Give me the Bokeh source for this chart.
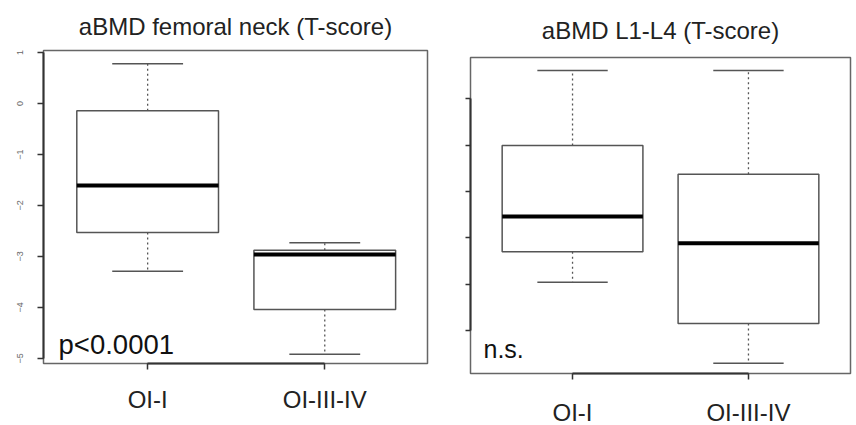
from bokeh.plotting import figure
from bokeh.layouts import row, column
from bokeh.models import FixedTicker, Range1d, Label
from bokeh.embed import file_html
from bokeh.resources import INLINE

# ---- data ----
groups = ["OI-I", "OI-III-IV"]
xpos = [1, 2]

fn_title = "aBMD femoral neck (T-score)"
fn_upper = [0.78, -2.73]
fn_q3 = [-0.14, -2.88]
fn_median = [-1.61, -2.96]
fn_q1 = [-2.53, -4.04]
fn_lower = [-3.29, -4.92]
fn_ticks = [1, 0, -1, -2, -3, -4, -5]
fn_note = "p<0.0001"

ls_title = "aBMD L1-L4 (T-score)"
ls_upper = [0.61, 0.61]
ls_q3 = [-1.01, -1.63]
ls_median = [-2.54, -3.12]
ls_q1 = [-3.30, -4.85]
ls_lower = [-3.96, -5.71]
ls_ticks = [0, -1, -2, -3, -4, -5]
ls_note = "n.s."

FONT = "Liberation Sans"
BOXW = 0.8
CAPW = 0.4


def boxplot(p, upper, q3, med, q1, lower):
    left = [x - BOXW / 2 for x in xpos]
    right = [x + BOXW / 2 for x in xpos]
    cl = [x - CAPW / 2 for x in xpos]
    cr = [x + CAPW / 2 for x in xpos]
    p.segment(x0=xpos, y0=q3, x1=xpos, y1=upper, line_color="#555",
              line_width=1.3, line_dash="2 3")
    p.segment(x0=xpos, y0=q1, x1=xpos, y1=lower, line_color="#555",
              line_width=1.3, line_dash="2 3")
    p.segment(x0=cl, y0=upper, x1=cr, y1=upper, line_color="#555", line_width=1.5)
    p.segment(x0=cl, y0=lower, x1=cr, y1=lower, line_color="#555", line_width=1.5)
    p.quad(left=left, right=right, top=q3, bottom=q1, fill_color="white",
           line_color="#555", line_width=1.5)
    p.segment(x0=left, y0=med, x1=right, y1=med, line_color="black", line_width=4)


def style(p, title, title_standoff, yticks, xlabel_standoff, ylabels=True):
    p.title.text = title
    p.title.align = "center"
    p.title.text_font = FONT
    p.title.text_font_size = "24px"
    p.title.text_font_style = "normal"
    p.title.text_color = "#222"
    p.title.standoff = title_standoff
    p.xgrid.visible = False
    p.ygrid.visible = False
    p.outline_line_color = "#666"
    p.outline_line_width = 1.5
    p.background_fill_color = "white"
    p.border_fill_color = "white"

    p.xaxis.ticker = FixedTicker(ticks=xpos)
    p.xaxis.major_label_overrides = {x: g for x, g in zip(xpos, groups)}
    p.xaxis.bounds = (xpos[0], xpos[-1])
    p.xaxis.major_label_text_font = FONT
    p.xaxis.major_label_text_font_size = "24px"
    p.xaxis.major_label_text_color = "#222"
    p.xaxis.major_label_standoff = xlabel_standoff
    p.xaxis.minor_tick_line_color = None
    p.xaxis.major_tick_out = 6
    p.xaxis.major_tick_in = 0
    p.xaxis.axis_line_color = "#333"
    p.xaxis.axis_line_width = 2
    p.xaxis.major_tick_line_color = "#333"
    p.xaxis.major_tick_line_width = 1.5

    p.yaxis.ticker = FixedTicker(ticks=yticks)
    p.yaxis.bounds = (min(yticks), max(yticks))
    p.yaxis.minor_tick_line_color = None
    p.yaxis.major_tick_out = 6
    p.yaxis.major_tick_in = 0
    p.yaxis.axis_line_color = "#333"
    p.yaxis.axis_line_width = 2
    p.yaxis.major_tick_line_color = "#333"
    p.yaxis.major_tick_line_width = 1.5
    p.yaxis.major_label_orientation = "vertical"
    p.yaxis.major_label_text_font = FONT
    p.yaxis.major_label_text_font_size = "9px"
    p.yaxis.major_label_text_color = "#666"
    p.yaxis.major_label_standoff = 14
    if not ylabels:
        p.yaxis.major_label_overrides = {t: "" for t in yticks}


# ---- left: femoral neck ----
p1 = figure(frame_width=384, frame_height=313, width=437, height=420,
            min_border_left=43, min_border_right=10, min_border_top=50,
            min_border_bottom=57,
            x_range=Range1d(0.412, 2.58), y_range=Range1d(-5.10, 1.04),
            output_backend="svg", toolbar_location=None)
boxplot(p1, fn_upper, fn_q3, fn_median, fn_q1, fn_lower)
style(p1, fn_title, 21, fn_ticks, 16)
p1.add_layout(Label(x=0.497, y=-4.72, text=fn_note, text_font=FONT,
                    text_font_size="27.5px", text_color="#111",
                    text_baseline="alphabetic"))

# ---- right: L1-L4 ----
p2 = figure(frame_width=380, frame_height=316, width=415, height=420,
            min_border_left=33, min_border_right=2, min_border_top=57,
            min_border_bottom=47,
            x_range=Range1d(0.42, 2.58), y_range=Range1d(-5.93, 0.89),
            output_backend="svg", toolbar_location=None)
boxplot(p2, ls_upper, ls_q3, ls_median, ls_q1, ls_lower)
style(p2, ls_title, 27, ls_ticks, 19, ylabels=False)
p2.yaxis.major_tick_out = 5
p2.add_layout(Label(x=0.494, y=-5.41, text=ls_note, text_font=FONT,
                    text_font_size="25px", text_color="#111",
                    text_baseline="alphabetic"))

layout = row(column(p1), column(p2), spacing=0)
open("out.html", "w").write(file_html(layout, INLINE))
